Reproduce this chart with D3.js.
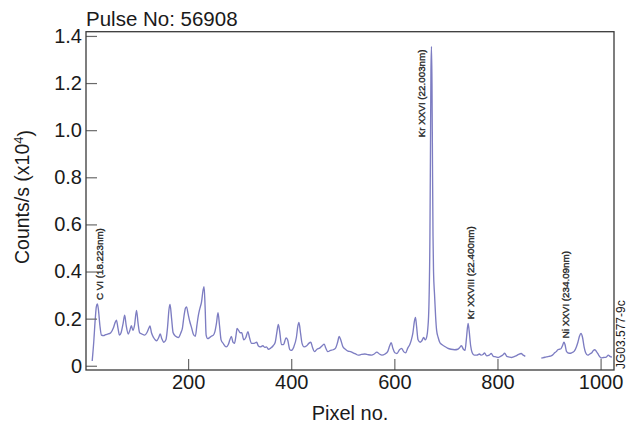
<!DOCTYPE html>
<html>
<head>
<meta charset="utf-8">
<script src="https://cdn.jsdelivr.net/npm/d3@7"></script>
<style>
  html, body { margin: 0; padding: 0; background: #fff; }
  svg { display: block; font-family: "Liberation Sans", Arial, Helvetica, sans-serif; }
</style>
</head>
<body>
<svg id="chart" width="627" height="426"></svg>
<script>
// Spectrometer detector pixel and measured count rate (units of 10^4 counts/s)
const pixel = [
  14, 17, 20, 22, 24, 26, 29, 32, 36, 40, 45, 50, 55, 58, 61, 64, 67, 70, 74, 77,
  80, 84, 87, 90, 93, 96, 100, 103, 106, 110, 116, 120, 124, 126, 129, 133, 139, 143, 146, 149,
  153, 157, 160, 163, 165, 168, 171, 176, 181, 186, 189, 192, 195, 197, 200, 203, 207, 210, 214, 217,
  220, 223, 226, 229, 231, 233, 235, 238, 242, 245, 249, 252, 255, 258, 261, 264, 268, 274, 278, 281,
  284, 287, 290, 293, 295, 298, 301, 304, 308, 312, 316, 319, 323, 328, 333, 336, 340, 345, 349, 352,
  356, 360, 365, 369, 372, 375, 378, 381, 385, 390, 393, 397, 400, 405, 410, 413, 415, 418, 421, 425,
  430, 434, 438, 441, 445, 450, 455, 460, 464, 467, 471, 476, 481, 486, 490, 493, 496, 500, 505, 510,
  515, 520, 525, 530, 536, 543, 549, 556, 561, 566, 571, 576, 582, 587, 591, 594, 597, 601, 605, 610,
  614, 618, 622, 626, 630, 633, 636, 639, 641, 643, 646, 650, 653, 657, 660, 663, 665, 667, 669, 670,
  671, 672, 673, 674, 675, 676, 678, 680, 682, 685, 688, 692, 697, 703, 710, 717, 723, 727, 730, 734,
  737, 740, 743, 745, 748, 751, 755, 760, 765, 768, 772, 775, 779, 784, 788, 792, 797, 801, 806, 810,
  814, 818, 823, 827, 831, 836, 841, 846, 850, 854, 868, 885, 890, 895, 900, 904, 908, 911, 914, 917,
  920, 923, 926, 929, 931, 934, 939, 944, 949, 953, 956, 959, 962, 965, 968, 971, 975, 979, 983, 986,
  989, 992, 995, 998, 1001, 1006, 1011, 1015, 1018, 1022
];
const counts = [
  0.02, 0.10, 0.20, 0.25, 0.262, 0.24, 0.17, 0.13, 0.128, 0.132, 0.135, 0.14, 0.16, 0.18, 0.194, 0.16, 0.13, 0.14, 0.18, 0.215,
  0.17, 0.135, 0.15, 0.17, 0.15, 0.17, 0.235, 0.18, 0.14, 0.135, 0.13, 0.14, 0.16, 0.169, 0.14, 0.12, 0.106, 0.12, 0.135, 0.115,
  0.10, 0.11, 0.16, 0.24, 0.26, 0.20, 0.14, 0.125, 0.12, 0.14, 0.16, 0.21, 0.245, 0.25, 0.22, 0.19, 0.16, 0.135, 0.125, 0.17,
  0.215, 0.245, 0.27, 0.32, 0.336, 0.25, 0.13, 0.115, 0.12, 0.125, 0.13, 0.145, 0.18, 0.225, 0.17, 0.11, 0.095, 0.08, 0.09, 0.11,
  0.125, 0.10, 0.095, 0.13, 0.158, 0.15, 0.14, 0.14, 0.11, 0.12, 0.145, 0.12, 0.095, 0.095, 0.10, 0.085, 0.08, 0.085, 0.078, 0.08,
  0.07, 0.075, 0.085, 0.10, 0.14, 0.175, 0.14, 0.09, 0.09, 0.118, 0.11, 0.07, 0.065, 0.08, 0.12, 0.17, 0.184, 0.14, 0.095, 0.08,
  0.085, 0.095, 0.10, 0.08, 0.06, 0.07, 0.075, 0.085, 0.092, 0.075, 0.06, 0.065, 0.068, 0.075, 0.10, 0.124, 0.11, 0.082, 0.07, 0.062,
  0.06, 0.055, 0.05, 0.045, 0.048, 0.05, 0.047, 0.045, 0.05, 0.058, 0.05, 0.045, 0.05, 0.06, 0.085, 0.098, 0.075, 0.055, 0.052, 0.068,
  0.074, 0.06, 0.055, 0.075, 0.09, 0.11, 0.14, 0.19, 0.205, 0.17, 0.11, 0.10, 0.105, 0.12, 0.11, 0.125, 0.16, 0.25, 0.55, 0.90,
  1.25, 1.355, 1.20, 0.85, 0.55, 0.40, 0.30, 0.21, 0.15, 0.12, 0.10, 0.09, 0.083, 0.075, 0.07, 0.068, 0.07, 0.078, 0.085, 0.07,
  0.065, 0.12, 0.18, 0.15, 0.085, 0.055, 0.045, 0.045, 0.05, 0.045, 0.048, 0.054, 0.042, 0.045, 0.052, 0.04, 0.038, 0.035, 0.04, 0.045,
  0.053, 0.04, 0.037, 0.035, 0.038, 0.042, 0.048, 0.052, 0.045, 0.04, null, 0.032, 0.035, 0.038, 0.04, 0.042, 0.048, 0.055, 0.06, 0.068,
  0.07, 0.072, 0.085, 0.10, 0.09, 0.06, 0.053, 0.055, 0.062, 0.08, 0.10, 0.125, 0.137, 0.12, 0.08, 0.055, 0.045, 0.05, 0.055, 0.065,
  0.068, 0.06, 0.05, 0.04, 0.033, 0.035, 0.037, 0.045, 0.04, 0.037
];

// Identified emission lines and the detector pixel of each
const lineNames = ["C VI (18.223nm)", "Kr XXVI (22.003nm)", "Kr XXVIII (22.400nm)", "Ni XXVI (234.09nm)"];
const linePixels = [24, 672, 743, 929];

// Axis ticks
const xTicks = [200, 400, 600, 800, 1000];
const yTicks = [0, 0.2, 0.4, 0.6, 0.8, 1.0, 1.2, 1.4];

const titleText = "Pulse No: 56908";
const xTitle = "Pixel no.";
const figureId = "JG03.577-9c";

const svg = d3.select("#chart");
const plot = { left: 86, right: 614, top: 31.7, bottom: 370 };

const x = d3.scaleLinear().domain([2, 1026]).range([plot.left, plot.right]);
const y = d3.scaleLinear().domain([-0.018, 1.418]).range([plot.bottom, plot.top]);

const spectrum = pixel.map((p, i) => ({ p, v: counts[i] }));

// Spectrum trace
svg.append("path")
  .datum(spectrum)
  .attr("fill", "none")
  .attr("stroke", "#7d7dc2")
  .attr("stroke-width", 1.35)
  .attr("stroke-linejoin", "round")
  .attr("d", d3.line()
    .defined(d => d.v != null)
    .x(d => x(d.p))
    .y(d => y(d.v))
    .curve(d3.curveMonotoneX));

// Axes with inward ticks
const xAxis = svg.append("g")
  .attr("transform", `translate(0,${plot.bottom})`)
  .call(d3.axisBottom(x).tickValues(xTicks).tickSize(-11).tickPadding(5).tickFormat(d3.format("d")));
const yAxis = svg.append("g")
  .attr("transform", `translate(${plot.left},0)`)
  .call(d3.axisLeft(y).tickValues(yTicks).tickSize(-11).tickPadding(4)
    .tickFormat(d => d === 0 ? "0" : d3.format(".1f")(d)));

[xAxis, yAxis].forEach(g => {
  g.select(".domain").remove();
  g.selectAll(".tick line").attr("stroke", "#6a6a6a").attr("stroke-width", 1.2);
  g.selectAll(".tick text")
    .attr("fill", "#1a1a1a")
    .style("font-size", "20px")
    .style("font-family", "'Liberation Sans', Arial, Helvetica, sans-serif");
});

// Plot frame
svg.append("rect")
  .attr("x", plot.left).attr("y", plot.top)
  .attr("width", plot.right - plot.left).attr("height", plot.bottom - plot.top)
  .attr("fill", "none").attr("stroke", "#3a3a3a").attr("stroke-width", 1.3);

// Titles
svg.append("text")
  .attr("x", plot.left).attr("y", 26)
  .attr("fill", "#1a1a1a").style("font-size", "20.5px")
  .text(titleText);

svg.append("text")
  .attr("x", (plot.left + plot.right) / 2).attr("y", 420)
  .attr("text-anchor", "middle")
  .attr("fill", "#1a1a1a").style("font-size", "20px")
  .text(xTitle);

const yLab = svg.append("text")
  .attr("transform", "translate(29,197) rotate(-90)")
  .attr("text-anchor", "middle")
  .attr("fill", "#1a1a1a").style("font-size", "19.5px");
yLab.append("tspan").text("Counts/s (x10");
yLab.append("tspan").attr("dy", "-0.45em").style("font-size", "13px").text("4");
yLab.append("tspan").attr("dy", "0.45em").text(")");

// Emission-line annotations
function peakValue(p) {
  let best = 0;
  spectrum.forEach(d => { if (d.v != null && Math.abs(d.p - p) <= 3 && d.v > best) best = d.v; });
  return best;
}
lineNames.forEach((name, i) => {
  const px = x(linePixels[i]);
  const py = y(peakValue(linePixels[i]));
  const beside = peakValue(linePixels[i]) > 1;
  const tx = beside ? px - 10 : px + 2;
  const ty = beside ? py + 3 : py - 4;
  svg.append("text")
    .attr("transform", `translate(${tx},${ty}) rotate(-90)`)
    .attr("dy", "0.35em")
    .attr("text-anchor", beside ? "end" : "start")
    .attr("fill", "#262626")
    .attr("stroke", "#262626").attr("stroke-width", 0.35)
    .style("font-size", "9.8px")
    .text(name);
});

// Figure reference
svg.append("text")
  .attr("transform", `translate(621,369) rotate(-90)`)
  .attr("dy", "0.35em")
  .attr("fill", "#1a1a1a").style("font-size", "12px")
  .text(figureId);
</script>
</body>
</html>
